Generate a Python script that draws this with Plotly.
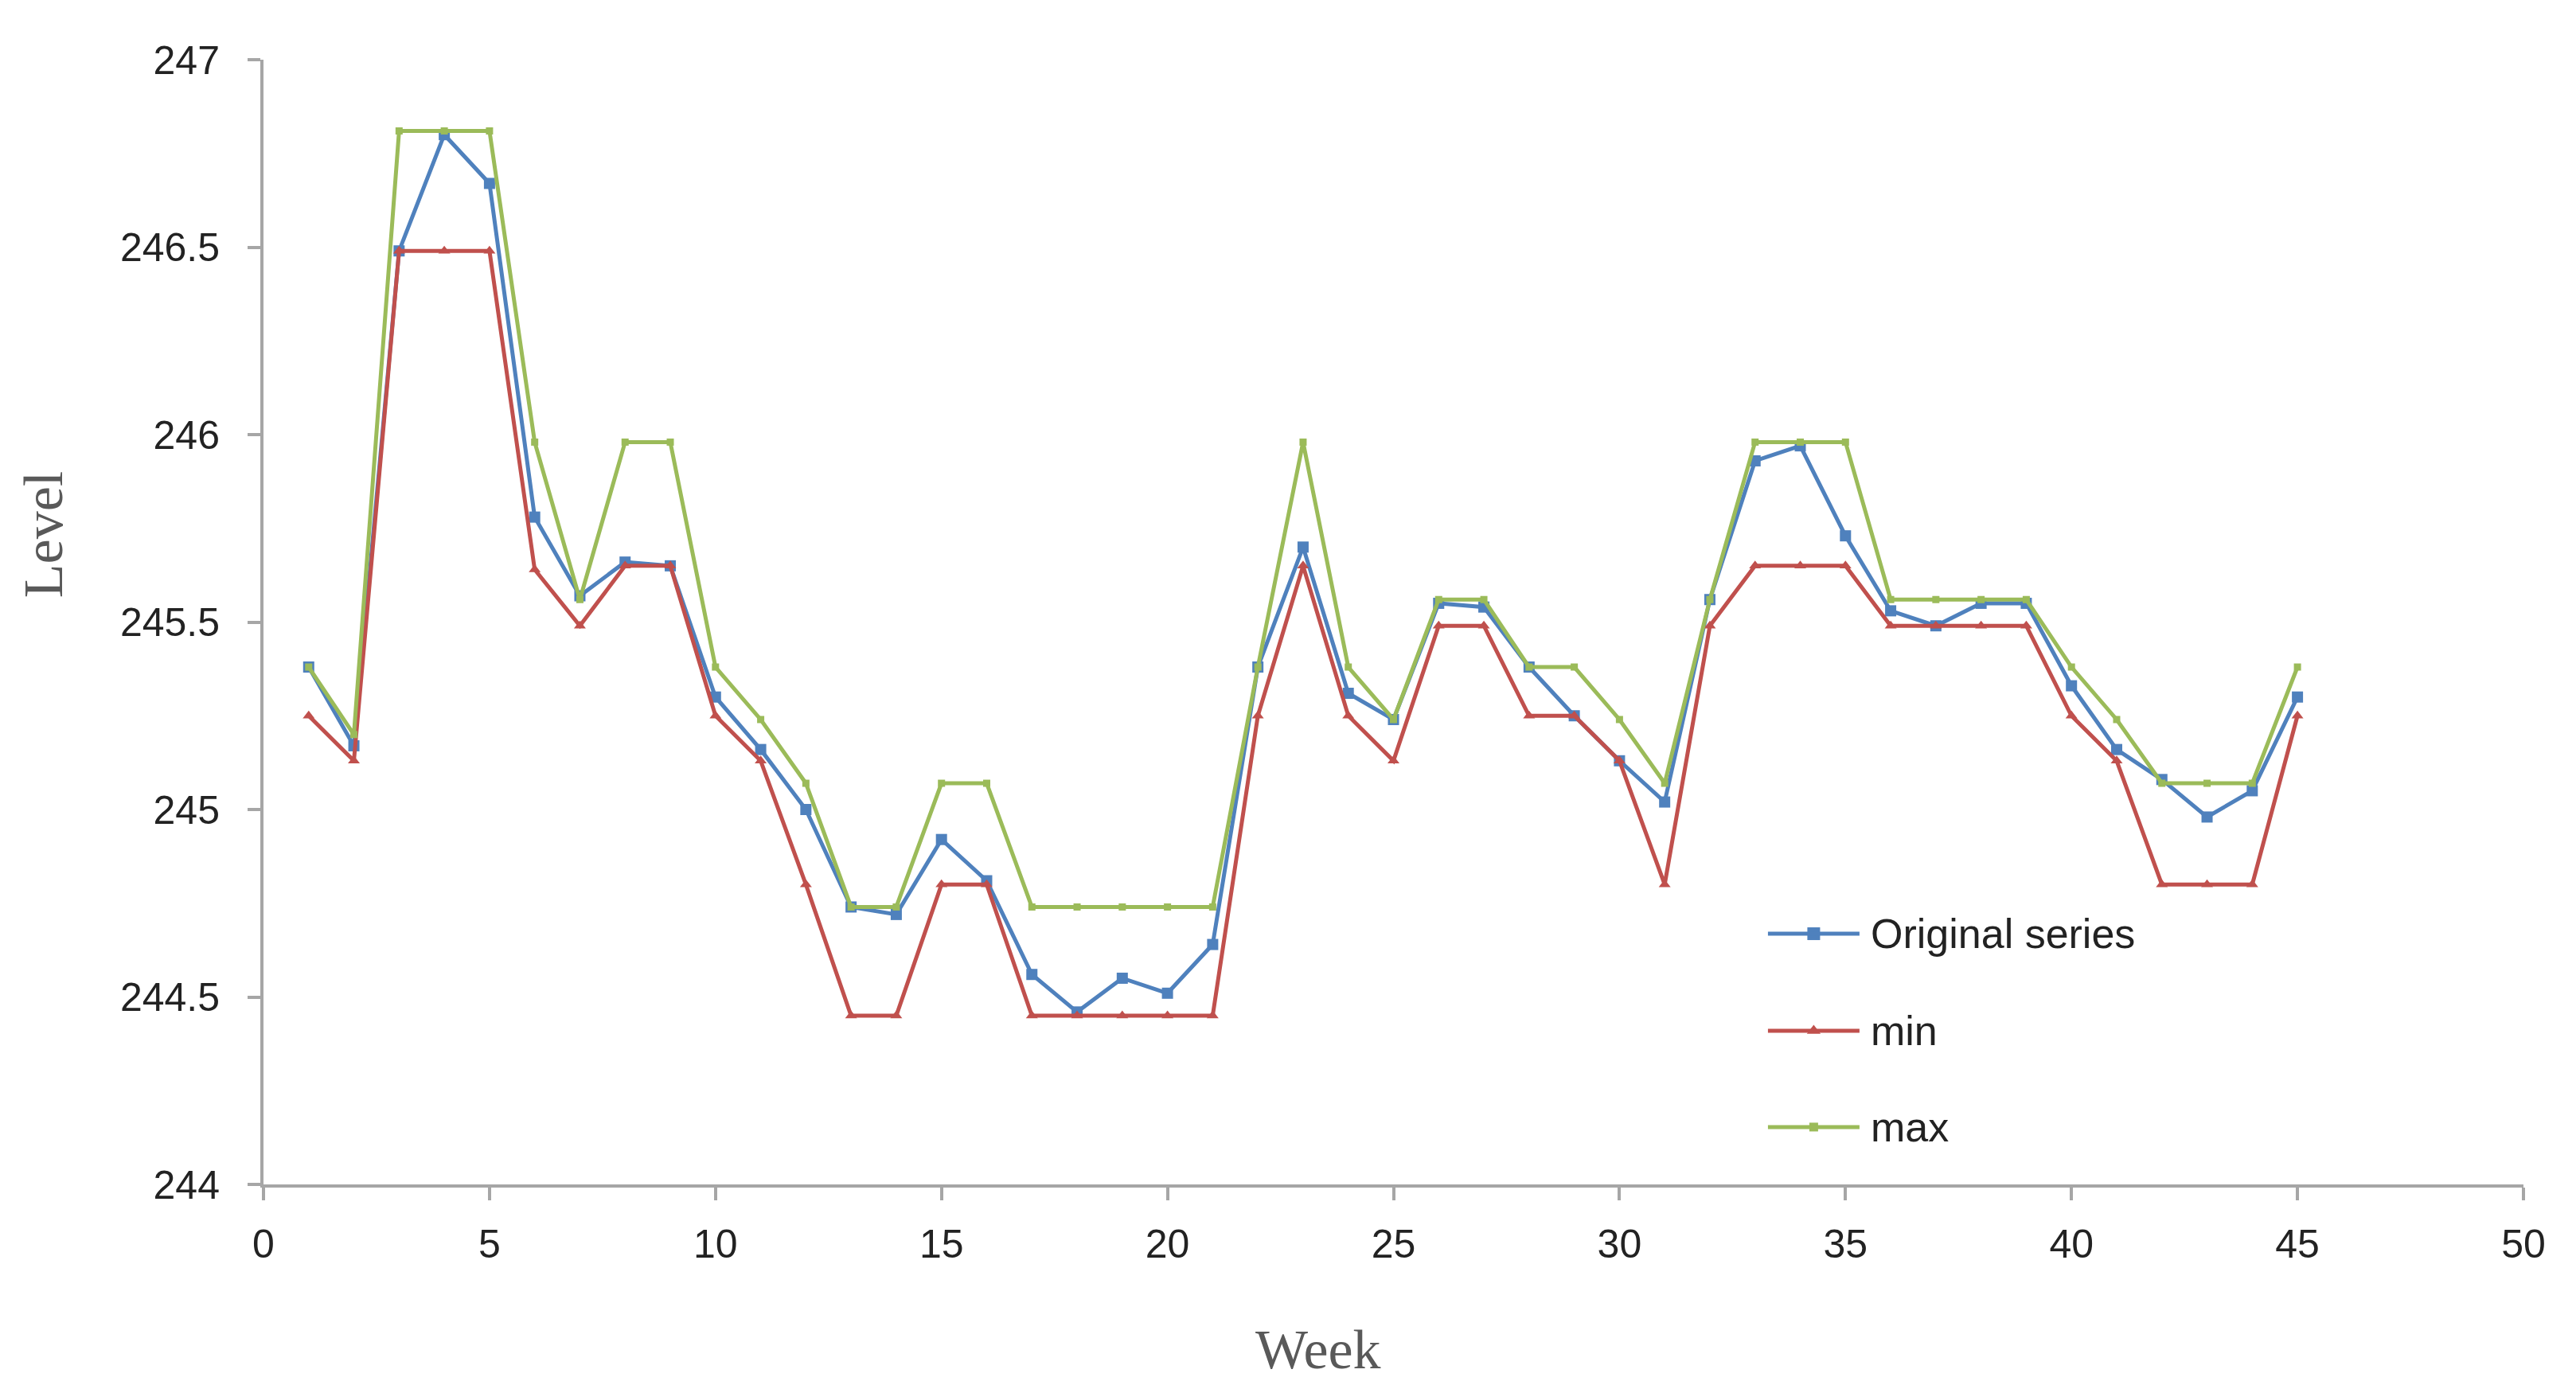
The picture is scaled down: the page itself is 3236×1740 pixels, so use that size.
import plotly.graph_objects as go

weeks = list(range(1, 46))

original_series = [245.38, 245.17, 246.49, 246.80, 246.67, 245.78, 245.57, 245.66, 245.65, 245.30,
                   245.16, 245.00, 244.74, 244.72, 244.92, 244.81, 244.56, 244.46, 244.55, 244.51,
                   244.64, 245.38, 245.70, 245.31, 245.24, 245.55, 245.54, 245.38, 245.25, 245.13,
                   245.02, 245.56, 245.93, 245.97, 245.73, 245.53, 245.49, 245.55, 245.55, 245.33,
                   245.16, 245.08, 244.98, 245.05, 245.30]

min_series = [245.25, 245.13, 246.49, 246.49, 246.49, 245.64, 245.49, 245.65, 245.65, 245.25,
              245.13, 244.80, 244.45, 244.45, 244.80, 244.80, 244.45, 244.45, 244.45, 244.45,
              244.45, 245.25, 245.65, 245.25, 245.13, 245.49, 245.49, 245.25, 245.25, 245.13,
              244.80, 245.49, 245.65, 245.65, 245.65, 245.49, 245.49, 245.49, 245.49, 245.25,
              245.13, 244.80, 244.80, 244.80, 245.25]

max_series = [245.38, 245.20, 246.81, 246.81, 246.81, 245.98, 245.56, 245.98, 245.98, 245.38,
              245.24, 245.07, 244.74, 244.74, 245.07, 245.07, 244.74, 244.74, 244.74, 244.74,
              244.74, 245.38, 245.98, 245.38, 245.24, 245.56, 245.56, 245.38, 245.38, 245.24,
              245.07, 245.56, 245.98, 245.98, 245.98, 245.56, 245.56, 245.56, 245.56, 245.38,
              245.24, 245.07, 245.07, 245.07, 245.38]

names = ["Original series", "min", "max"]
colors = ["#4F81BD", "#C0504D", "#9BBB59"]
symbols = ["square", "triangle-up", "square"]
sizes = [14, 13, 9]

fig = go.Figure()
for name, ys, col, sym, sz in zip(names, [original_series, min_series, max_series], colors, symbols, sizes):
    fig.add_trace(go.Scatter(
        x=weeks, y=ys, name=name, mode="lines+markers",
        line=dict(color=col, width=5),
        marker=dict(color=col, symbol=sym, size=sz),
        showlegend=False,
    ))

# Custom legend (long line samples like the original), in paper coordinates
leg_rows = [0.2229, 0.1366, 0.0510]
leg_x0, leg_x1, leg_text_x = 0.6657, 0.7062, 0.7105
for name, col, sym, sz, ly in zip(names, colors, symbols, sizes, leg_rows):
    fig.add_shape(type="line", xref="paper", yref="paper",
                  x0=leg_x0, x1=leg_x1, y0=ly, y1=ly,
                  line=dict(color=col, width=5))
    fig.add_annotation(xref="paper", yref="paper", x=leg_text_x, y=ly,
                       text=name, showarrow=False, xanchor="left", yanchor="middle",
                       font=dict(family="Liberation Sans, Arial, sans-serif", size=52, color="#222222"))
    fig.add_trace(go.Scatter(
        x=[(leg_x0 + leg_x1) / 2], y=[ly], xaxis="x2", yaxis="y2",
        mode="markers", marker=dict(color=col, symbol=sym, size=sz + 2),
        showlegend=False, hoverinfo="skip",
    ))

tick_font = dict(family="Liberation Sans, Arial, sans-serif", size=50, color="#222222")
title_font = dict(family="Liberation Serif, Times New Roman, serif", size=70, color="#595959")

fig.add_annotation(xref="paper", yref="paper", x=0.4667, y=-0.147, text="Week",
                   showarrow=False, xanchor="center", yanchor="middle", font=title_font)
fig.add_annotation(xref="paper", yref="paper", x=-0.0976, y=0.578, text="Level",
                   showarrow=False, xanchor="center", yanchor="middle", textangle=-90, font=title_font)

fig.update_layout(
    width=3236, height=1740,
    paper_bgcolor="white", plot_bgcolor="white",
    margin=dict(l=323, r=74, t=67, b=260),
    showlegend=False,
    xaxis=dict(
        range=[0, 50], dtick=5, tick0=0,
        showgrid=False, zeroline=False,
        showline=True, linecolor="#a6a6a6", linewidth=4,
        ticks="outside", ticklen=16, tickwidth=4, tickcolor="#a6a6a6",
        ticklabelstandoff=12,
        tickfont=tick_font,
    ),
    yaxis=dict(
        range=[244, 247], dtick=0.5, tick0=244,
        showgrid=False, zeroline=False,
        showline=True, linecolor="#a6a6a6", linewidth=4,
        ticks="outside", ticklen=16, tickwidth=4, tickcolor="#a6a6a6",
        ticklabelstandoff=25,
        tickfont=tick_font,
    ),
    xaxis2=dict(overlaying="x", range=[0, 1], visible=False, fixedrange=True),
    yaxis2=dict(overlaying="y", range=[0, 1], visible=False, fixedrange=True),
)

fig.write_html("out.html")
